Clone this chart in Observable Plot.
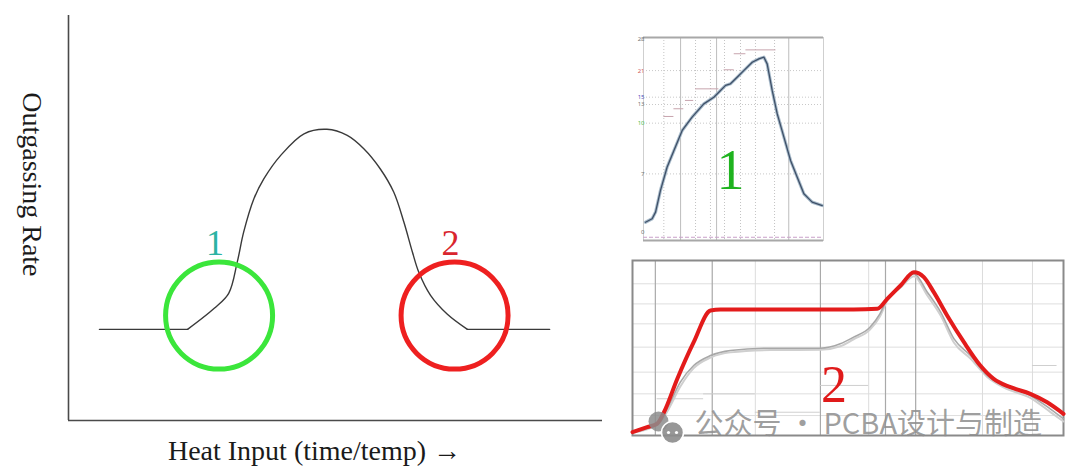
<!DOCTYPE html>
<html><head><meta charset="utf-8">
<script src="https://cdn.jsdelivr.net/npm/d3@7"></script>
<script src="https://cdn.jsdelivr.net/npm/@observablehq/plot@0.6"></script>
<style>
html,body{margin:0;padding:0;background:#fff;}
#stage{position:relative;width:1080px;height:474px;overflow:hidden;background:#fff;}
#stage > div{position:absolute;}
</style></head>
<body>
<div id="stage"><div id="main"></div><div id="inset1"></div><div id="inset2"></div></div>
<script>
// ---------- Main schematic: outgassing rate vs heat input ----------
const heatInput      = [0.58, 2.23, 2.73, 3.00, 3.16, 3.28, 3.47, 3.66, 3.97, 4.41, 4.84, 5.22, 5.53, 5.84, 6.09, 6.28, 6.44, 6.56, 6.78, 7.09, 7.47, 9.01];
const outgassingRate = [2.25, 2.25, 2.77, 3.14, 3.91, 4.65, 5.47, 5.97, 6.54, 7.08, 7.19, 7.04, 6.71, 6.21, 5.64, 4.90, 4.16, 3.66, 3.09, 2.63, 2.25, 2.25];
const zoneLabels  = ["1", "2"];
const zoneX       = [2.82, 7.23];
const zoneY       = [2.59, 2.59];
const zoneColors  = ["#3be63b", "#ee2020"];
const labelColors = ["#2bb3a3", "#d9252e"];
const xTitle = "Heat Input (time/temp) \u2192";
const yTitle = "Outgassing Rate";

// ---------- Inset 1: profile "1" ----------
const profile1Time  = [1.1, 4.8, 6.7, 9.4, 13.1, 16.9, 21.5, 27.0, 33.5, 39.1, 42.8, 45.6, 48.3, 52.0, 55.7, 60.4, 64.1, 66.9, 68.7, 71.5, 74.3, 78.0, 81.7, 85.4, 89.1, 93.7, 99.3];
const profile1Value = [9.0, 10.7, 14.0, 24.6, 36.1, 44.3, 54.2, 60.8, 67.3, 70.6, 73.9, 76.4, 77.2, 80.4, 83.7, 87.8, 89.5, 90.3, 87.0, 73.9, 62.4, 50.9, 39.4, 31.2, 23.0, 18.9, 17.2];
const inset1GridSolid  = [20.6, 40.6, 80.7];
const inset1GridDotted = [11.3, 28.9, 37.2, 45.0, 53.9, 62.2, 72.8];
const inset1GridH      = [83.7, 70.6, 67.0, 57.8, 32.8];
const inset1TickValues = [99, 83.7, 70.6, 67.0, 57.8, 32.8, 4.1];
const inset1TickLabels = ["28", "21", "15", "13", "10", "7", "0"];
const inset1TickColors = ["#777", "#d06060", "#5050c0", "#777", "#50c050", "#777", "#777"];
const inset1StepStart = [11.3, 16.9, 23.3, 28.9, 44.8, 50.4, 56.9];
const inset1StepEnd   = [16.9, 22.4, 27.9, 41.9, 50.4, 56.9, 73.6];
const inset1StepLevel = [61.1, 64.9, 69.0, 74.7, 84.1, 92.0, 93.9];
const inset1Label = "1";

// ---------- Inset 2: profile "2" ----------
const profile2Time = [0, 3.4, 5.7, 7.3, 10.4, 14.2, 18.1, 20.4, 35.9, 51.3, 56.8, 59.1, 62.2, 65.3, 67.6, 69.9, 73.0, 76.9, 80.7, 83.8, 87.7, 92.3, 96.2, 100];
const profile2Red  = [1.9, 4.8, 6.7, 13.3, 32.4, 53.3, 71.4, 72.0, 72.0, 72.0, 72.4, 78.1, 85.7, 93.3, 90.5, 81.9, 68.6, 53.3, 40.0, 32.4, 27.6, 23.8, 19.0, 12.4];
const profile2GrayTime = [0, 5.7, 8.0, 11.1, 14.2, 18.1, 22.7, 32.0, 43.6, 48.2, 51.3, 55.1, 57.4, 59.1, 62.2, 65.3, 68.4, 71.5, 74.6, 78.4, 82.3, 86.1, 92.3, 96.9, 100];
const profile2GrayA    = [1.9, 6.7, 15.2, 30.5, 40.0, 45.7, 48.6, 49.9, 49.9, 52.4, 56.2, 61.9, 69.5, 78.1, 85.7, 92.4, 81.9, 70.5, 55.2, 45.7, 34.3, 28.6, 22.9, 15.2, 9.5];
const profile2GrayB    = [1.5, 6.0, 13.5, 28.0, 38.5, 44.5, 47.5, 48.8, 49.0, 51.0, 55.0, 60.5, 68.0, 77.0, 84.5, 91.0, 80.0, 68.5, 53.0, 44.0, 33.5, 27.5, 21.5, 13.5, 8.0];
const inset2GridDark  = [5.3, 18.5, 43.6, 58.7, 65.7];
const inset2GridLight = [28.5, 54.8, 81.2, 92.8];
const inset2GridH     = [86.7, 75.2, 63.8, 50.5, 36.2, 23.8, 11.4];
const inset2StepStart = [5.7, 16.5, 28.5, 43.6, 92.8];
const inset2StepEnd   = [16.5, 28.5, 43.6, 54.8, 98.5];
const inset2StepLevel = [21.0, 23.8, 13.3, 28.6, 40.0];
const inset2Label = "2";
const watermark = "公众号 · PCBA设计与制造";

// ---------- build tables ----------
const curveRows = heatInput.map((x, i) => ({x, y: outgassingRate[i]}));
const leftFlat = curveRows.slice(0, 2);
const bell = curveRows.slice(1, -1);
const rightFlat = curveRows.slice(-2);
const zoneRows = zoneLabels.map((label, i) => ({label, x: zoneX[i], y: zoneY[i], ring: zoneColors[i], ink: labelColors[i]}));
const p1Rows = profile1Time.map((t, i) => ({t, v: profile1Value[i]}));
const t1Rows = inset1TickLabels.map((label, i) => ({label, v: inset1TickValues[i], c: inset1TickColors[i]}));
const s1Rows = inset1StepLevel.map((y, i) => ({y, x1: inset1StepStart[i], x2: inset1StepEnd[i]}));
const redRows = profile2Time.map((t, i) => ({t, v: profile2Red[i]}));
const grayARows = profile2GrayTime.map((t, i) => ({t, v: profile2GrayA[i]}));
const grayBRows = profile2GrayTime.map((t, i) => ({t, v: profile2GrayB[i]}));
const s2Rows = inset2StepLevel.map((y, i) => ({y, x1: inset2StepStart[i], x2: inset2StepEnd[i]}));

const serif = "'Liberation Serif', 'Times New Roman', serif";
const baseStyle = {background: "transparent", overflow: "visible", maxWidth: "none"};

function place(id, svg, left, top, w, h) {
  const el = document.getElementById(id);
  el.style.left = left + "px"; el.style.top = top + "px";
  el.style.width = w + "px"; el.style.height = h + "px";
  el.appendChild(svg);
}

// main chart
const main = Plot.plot({
  width: 610, height: 474,
  marginLeft: 68, marginRight: 8, marginTop: 15, marginBottom: 54,
  x: {domain: [0, 10], axis: null},
  y: {domain: [0, 10], axis: null},
  color: {type: "identity"},
  style: baseStyle,
  marks: [
    Plot.ruleX([0], {stroke: "#4a4a4a", strokeWidth: 1.6}),
    Plot.ruleY([0], {stroke: "#4a4a4a", strokeWidth: 1.6}),
    Plot.line(leftFlat, {x: "x", y: "y", stroke: "#3a3a3a", strokeWidth: 1.4}),
    Plot.line(bell, {x: "x", y: "y", curve: "catmull-rom", stroke: "#3a3a3a", strokeWidth: 1.4}),
    Plot.line(rightFlat, {x: "x", y: "y", stroke: "#3a3a3a", strokeWidth: 1.4}),
    Plot.dot(zoneRows, {x: "x", y: "y", r: 53.5, stroke: "ring", strokeWidth: 5, fill: "none"}),
    Plot.text(zoneRows, {x: "x", y: "y", text: "label", fill: "ink", dx: -4, dy: -72, fontSize: 36, fontFamily: serif}),
    Plot.text([yTitle], {x: -0.69, y: 5.83, rotate: 90, fontSize: 28, fontFamily: serif, fill: "#1a1a1a"}),
    Plot.text([xTitle], {frameAnchor: "bottom", dx: -21, dy: 39, fontSize: 28, fontFamily: serif, fill: "#1a1a1a"})
  ]
});
place("main", main, 0, 0, 610, 474);

// inset 1
const inset1 = Plot.plot({
  width: 194, height: 207,
  marginLeft: 12, marginRight: 2, marginTop: 2, marginBottom: 2,
  x: {domain: [0, 100], axis: null},
  y: {domain: [0, 100], axis: null},
  color: {type: "identity"},
  style: baseStyle,
  marks: [
    Plot.ruleX(inset1GridSolid, {stroke: "#bdbdbd", strokeWidth: 1}),
    Plot.ruleX(inset1GridDotted, {stroke: "#c4c4c4", strokeDasharray: "1,2"}),
    Plot.ruleY(inset1GridH, {stroke: "#c8c8c8", strokeDasharray: "1,2"}),
    Plot.frame({stroke: "#cfcfcf"}),
    Plot.ruleY([0, 100], {stroke: "#a8a8a8", strokeWidth: 2}),
    Plot.ruleY([1.6], {stroke: "#c9a0c9", strokeDasharray: "4,2", strokeWidth: 1}),
    Plot.ruleY(s1Rows, {y: "y", x1: "x1", x2: "x2", stroke: "#c7a4ad", strokeWidth: 1}),
    Plot.line(p1Rows, {x: "t", y: "v", curve: "linear", stroke: "#a9bccb", strokeWidth: 3.2}),
    Plot.line(p1Rows, {x: "t", y: "v", curve: "linear", stroke: "#3f5068", strokeWidth: 1.3}),
    Plot.text(t1Rows, {x: 0, y: "v", text: "label", fill: "c", textAnchor: "end", dx: 1, fontSize: 6}),
    Plot.text([inset1Label], {frameAnchor: "middle", dx: -3, dy: 32, fontSize: 56, fontFamily: serif, fill: "#1fb31f"})
  ]
});
place("inset1", inset1, 631, 35, 194, 207);

// inset 2
const inset2 = Plot.plot({
  width: 433, height: 177,
  marginLeft: 1, marginRight: 1, marginTop: 1, marginBottom: 1,
  x: {domain: [0, 100], axis: null},
  y: {domain: [0, 100], axis: null},
  style: baseStyle,
  marks: [
    Plot.ruleY(inset2GridH, {stroke: "#dedede", strokeWidth: 1}),
    Plot.ruleX(inset2GridLight, {stroke: "#dcdcdc", strokeWidth: 1}),
    Plot.ruleX(inset2GridDark, {stroke: "#a9a9a9", strokeWidth: 1.2}),
    Plot.ruleY(s2Rows, {y: "y", x1: "x1", x2: "x2", stroke: "#cfcfcf", strokeWidth: 1}),
    Plot.frame({stroke: "#8a8a8a", strokeWidth: 2}),
    Plot.line(grayBRows, {x: "t", y: "v", curve: "monotone-x", stroke: "#cfcfcf", strokeWidth: 2}),
    Plot.line(grayARows, {x: "t", y: "v", curve: "monotone-x", stroke: "#a8a8a8", strokeWidth: 1.6}),
    Plot.line(redRows, {x: "t", y: "v", curve: "monotone-x", stroke: "#e31b1b", strokeWidth: 4}),
    Plot.text([inset2Label], {frameAnchor: "middle", dx: -14, dy: 37, fontSize: 52, fontFamily: serif, fill: "#e01a1a"}),
    Plot.dot([0], {frameAnchor: "bottom-left", dx: 26, dy: -14, r: 10, fill: "#8c8c8c", fillOpacity: 0.85}),
    Plot.dot([0], {frameAnchor: "bottom-left", dx: 40, dy: -3, r: 11, fill: "#8c8c8c", stroke: "#fff", strokeWidth: 1.5, fillOpacity: 0.9}),
    Plot.dot([0], {frameAnchor: "bottom-left", dx: 36, dy: -3, r: 1.6, fill: "#fff"}),
    Plot.dot([0], {frameAnchor: "bottom-left", dx: 44, dy: -3, r: 1.6, fill: "#fff"}),
    Plot.text([watermark], {frameAnchor: "bottom-left", dx: 62, dy: -2, textAnchor: "start", fontSize: 29, fontFamily: "'Noto Sans CJK SC', sans-serif", fill: "#8e8e8e", fillOpacity: 0.85})
  ]
});
place("inset2", inset2, 631, 259, 433, 177);
</script>
</body></html>
